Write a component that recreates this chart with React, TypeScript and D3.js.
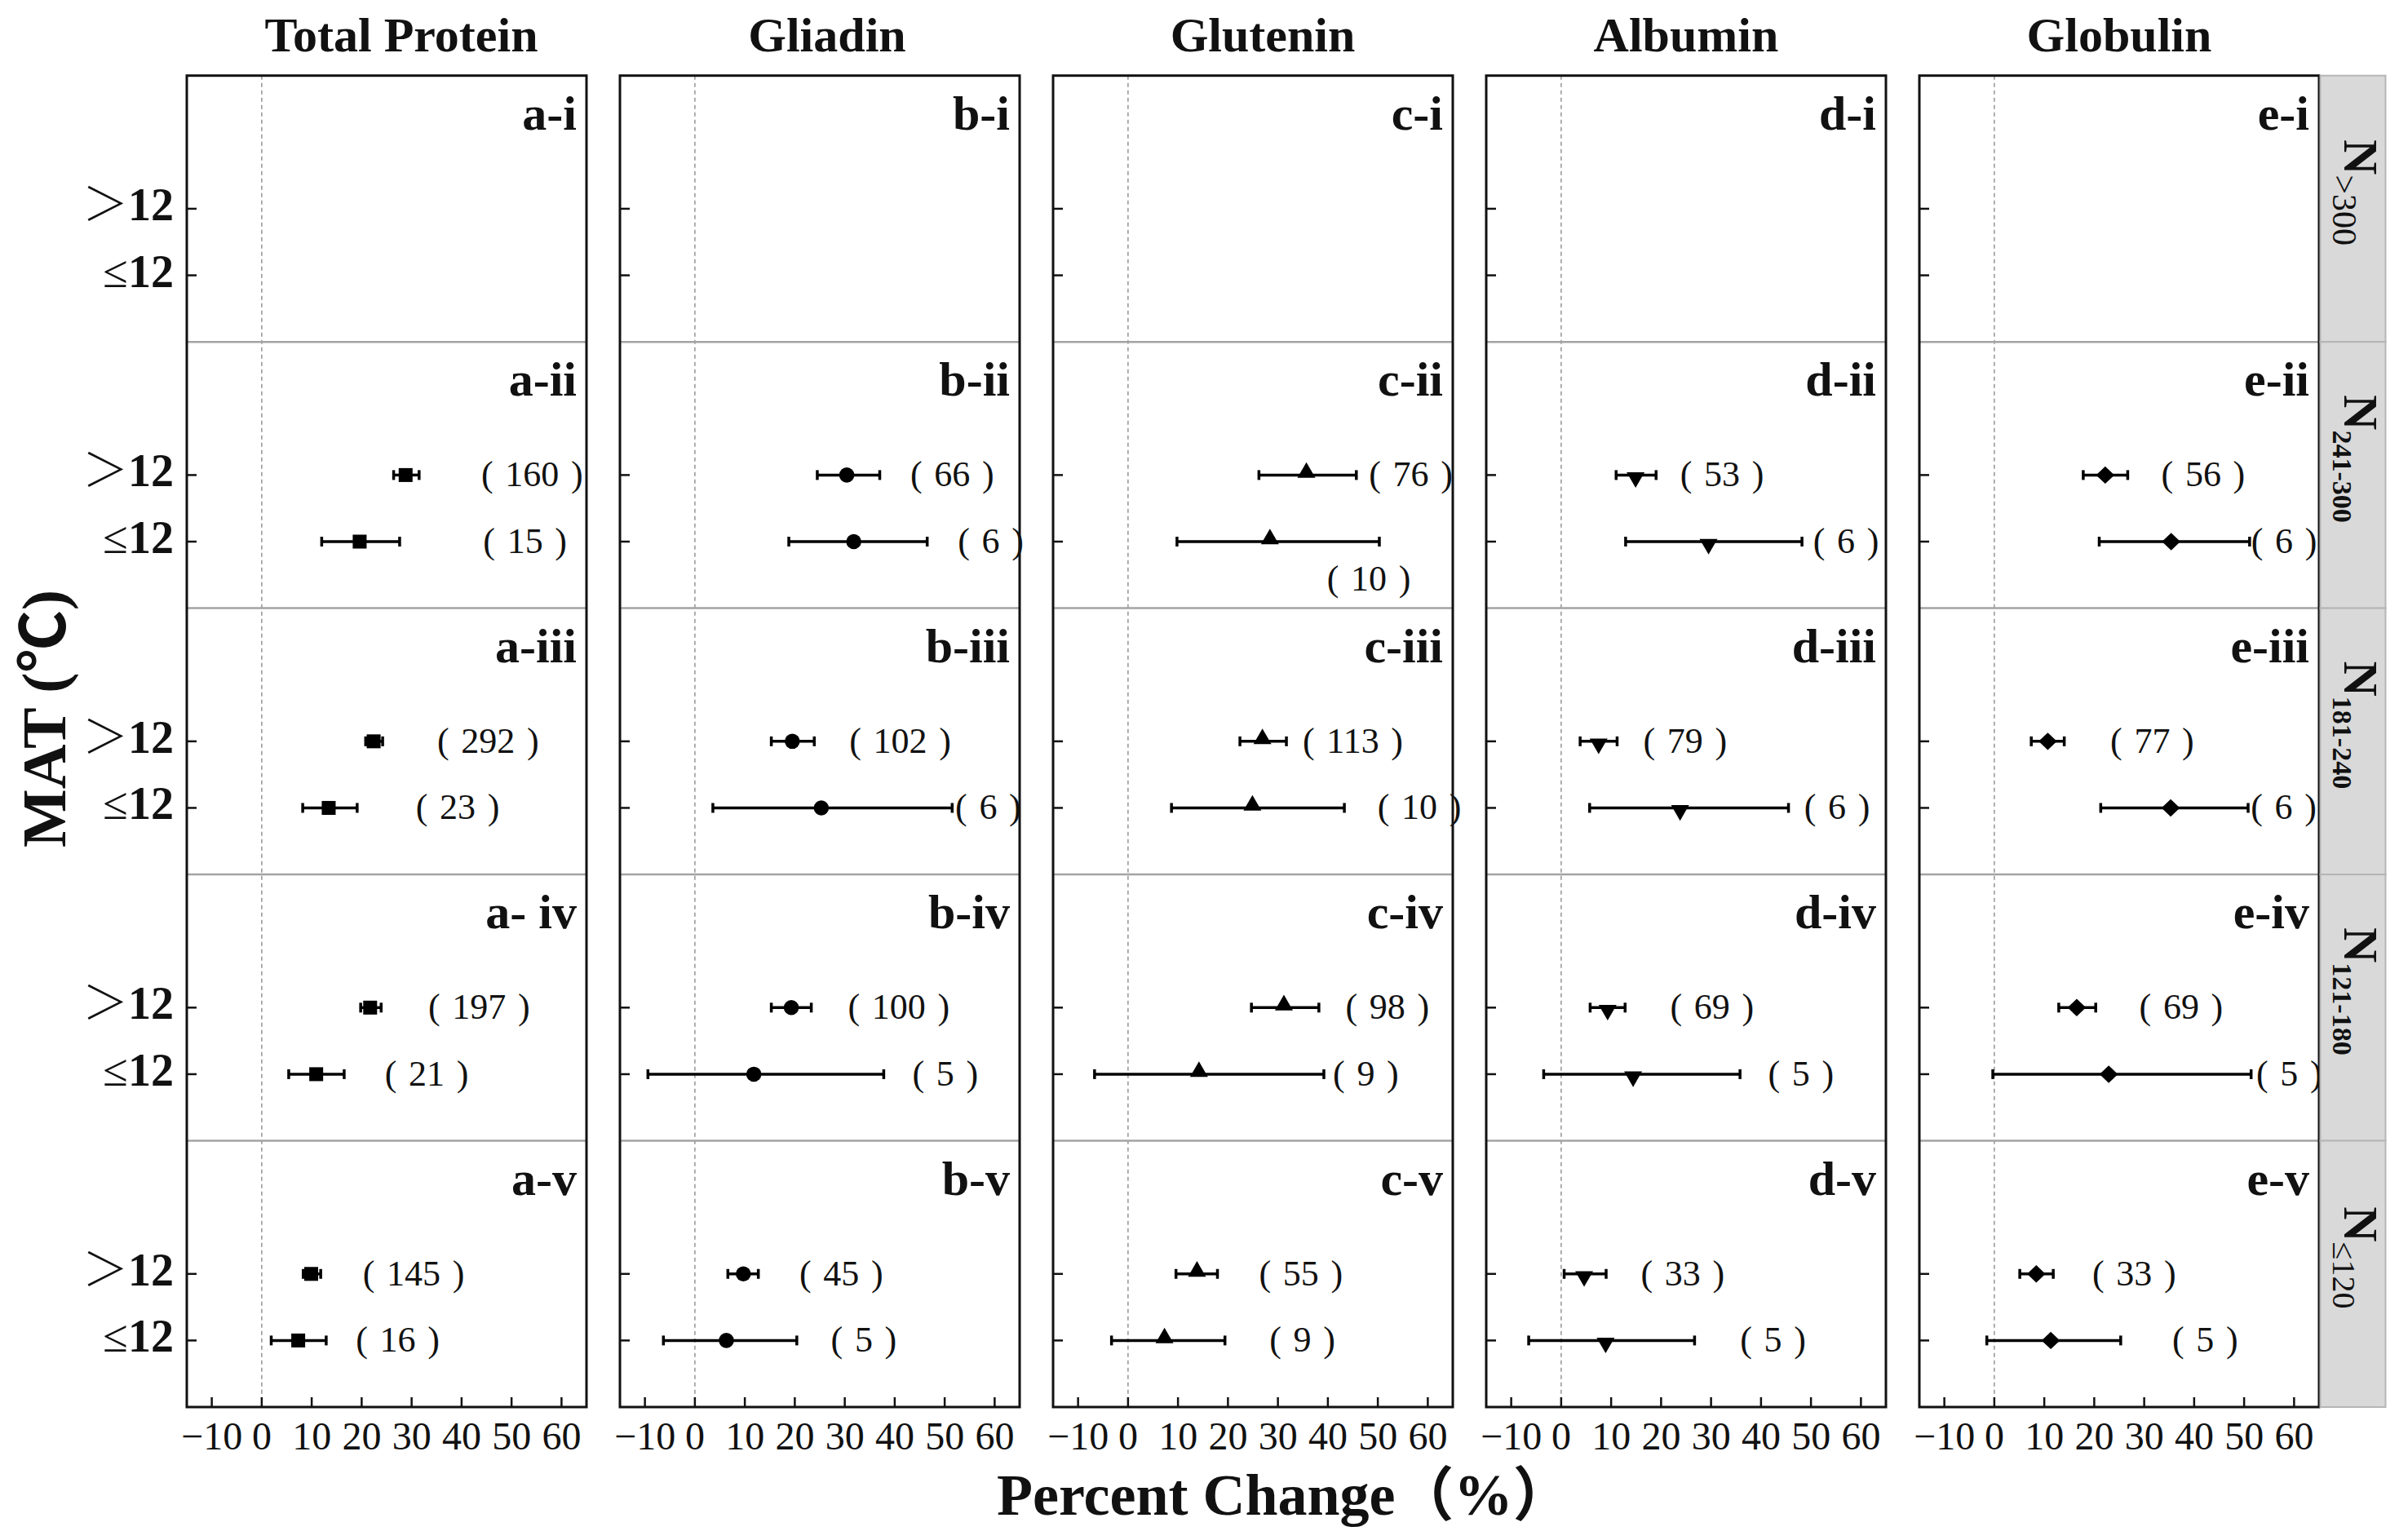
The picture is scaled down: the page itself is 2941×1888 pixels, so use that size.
import React from 'react';
import * as d3 from 'd3';

type Est = { row: string; mat: string; mean: number; lo: number; hi: number; n: number; at: number };

const columns = ['Total Protein', 'Gliadin', 'Glutenin', 'Albumin', 'Globulin'];
const rows = ['i', 'ii', 'iii', 'iv', 'v'];
const matLevels = ['＞12', '≤12'];
const xTicks = [-10, 0, 10, 20, 30, 40, 50, 60];
const panelTags = [
  ['a-i', 'a-ii', 'a-iii', 'a- iv', 'a-v'],
  ['b-i', 'b-ii', 'b-iii', 'b-iv', 'b-v'],
  ['c-i', 'c-ii', 'c-iii', 'c-iv', 'c-v'],
  ['d-i', 'd-ii', 'd-iii', 'd-iv', 'd-v'],
  ['e-i', 'e-ii', 'e-iii', 'e-iv', 'e-v'],
];
const stripMain = ['N', 'N', 'N', 'N', 'N'];
const stripSub = ['>300', '241-300', '181-240', '121-180', '≤120'];

const G = '＞12';
const L = '≤12';
const est = (row: string, mat: string, mean: number, lo: number, hi: number, n: number, at: number): Est => ({ row, mat, mean, lo, hi, n, at });

// mean, lower CI, upper CI, sample size, count-label position (percent units)
const totalProtein: Est[] = [
  est('ii', G, 28.8, 26.4, 31.5, 160, 54.1),
  est('ii', L, 19.6, 12.0, 27.6, 15, 52.7),
  est('iii', G, 22.4, 20.8, 24.2, 292, 45.3),
  est('iii', L, 13.4, 8.2, 19.1, 23, 39.2),
  est('iv', G, 21.7, 19.8, 23.9, 197, 43.5),
  est('iv', L, 10.9, 5.4, 16.5, 21, 33.0),
  est('v', G, 9.9, 8.3, 11.8, 145, 30.4),
  est('v', L, 7.3, 1.9, 12.9, 16, 27.2),
];
const gliadin: Est[] = [
  est('ii', G, 30.4, 24.5, 37.0, 66, 51.5),
  est('ii', L, 31.8, 18.8, 46.5, 6, 59.2),
  est('iii', G, 19.5, 15.3, 23.9, 102, 41.1),
  est('iii', L, 25.3, 3.6, 51.5, 6, 58.7),
  est('iv', G, 19.3, 15.3, 23.3, 100, 40.8),
  est('iv', L, 11.8, -9.4, 37.8, 5, 50.1),
  est('v', G, 9.7, 6.6, 12.7, 45, 29.3),
  est('v', L, 6.3, -6.3, 20.4, 5, 33.8),
];
const glutenin: Est[] = [
  est('ii', G, 35.7, 26.2, 45.7, 76, 56.6),
  est('ii', L, 28.4, 9.8, 50.3, 10, 48.2),
  est('iii', G, 26.9, 22.4, 31.7, 113, 45.0),
  est('iii', L, 24.9, 8.7, 43.3, 10, 58.3),
  est('iv', G, 31.2, 24.7, 38.2, 98, 51.9),
  est('iv', L, 14.2, -6.7, 39.2, 9, 47.6),
  est('v', G, 13.8, 9.6, 17.9, 55, 34.6),
  est('v', L, 7.3, -3.3, 19.4, 9, 34.9),
];
const albumin: Est[] = [
  est('ii', G, 14.9, 11.0, 19.0, 53, 32.2),
  est('ii', L, 29.5, 12.9, 48.2, 6, 57.0),
  est('iii', G, 7.5, 3.8, 11.2, 79, 24.8),
  est('iii', L, 23.8, 5.7, 45.5, 6, 55.2),
  est('iv', G, 9.3, 5.8, 12.8, 69, 30.2),
  est('iv', L, 14.4, -3.5, 35.8, 5, 48.0),
  est('v', G, 4.6, 0.6, 9.0, 33, 24.3),
  est('v', L, 8.9, -6.5, 26.7, 5, 42.4),
];
const globulin: Est[] = [
  est('ii', G, 22.2, 17.8, 26.7, 56, 41.8),
  est('ii', L, 35.4, 21.0, 51.1, 6, 58.0),
  est('iii', G, 10.7, 7.4, 14.0, 77, 31.6),
  est('iii', L, 35.3, 21.3, 50.8, 6, 57.9),
  est('iv', G, 16.5, 12.9, 20.3, 69, 37.4),
  est('iv', L, 22.9, -0.3, 51.4, 5, 59.0),
  est('v', G, 8.4, 5.1, 11.8, 33, 28.0),
  est('v', L, 11.3, -1.5, 25.3, 5, 42.2),
];
const series = [totalProtein, gliadin, glutenin, albumin, globulin];
// count label set beneath its bar
const labelBelow = new Set(['Glutenin|ii|≤12']);

// ---- layout & style ----
const W = 2941;
const H = 1888;
const LEFT = 229;
const RIGHT = 2843;
const TOP = 92.7;
const BOTTOM = 1725;
const FONT = '"Liberation Serif", "Times New Roman", "Noto Sans CJK SC", serif';
const titleShift = [18, 9, 12, 0, 0];

const diamond = {
  draw(ctx: any, size: number) {
    const r = Math.sqrt(size / 2);
    ctx.moveTo(0, -r);
    ctx.lineTo(r * 1.05, 0);
    ctx.lineTo(0, r);
    ctx.lineTo(-r * 1.05, 0);
    ctx.closePath();
  },
};
const symTypes: any[] = [d3.symbolSquare, d3.symbolCircle, d3.symbolTriangle, d3.symbolTriangle, diamond];
const symSizes = [290, 270, 210, 210, 230];
const symRotate = [0, 0, 0, 180, 0];
const symShift = [0, 0, -3, 3, 0];
const stripSubSize = [42, 34, 34, 34, 40];
const stripSubWeight = ['normal', 'bold', 'bold', 'bold', 'normal'];

export default function App() {
  const colX = d3.scaleBand<string>().domain(columns).range([LEFT, RIGHT]).paddingInner(41 / 531).paddingOuter(0);
  const PW = colX.bandwidth();
  const x = d3.scaleLinear().domain([-15, 65]).range([0, PW]);
  const rowBand = d3.scaleBand<string>().domain(rows).range([TOP, BOTTOM]);
  const rowH = rowBand.bandwidth();
  const yIn = d3.scalePoint<string>().domain(matLevels).range([rowH * 0.5, rowH * 0.75]);

  return (
    <svg width={W} height={H} viewBox={`0 0 ${W} ${H}`} style={{ position: 'absolute', left: 0, top: 0, background: '#fff' }} fontFamily={FONT}>
      <rect x={0} y={0} width={W} height={H} fill="#fff" />
      {columns.map((col, ci) => {
        const x0 = colX(col) as number;
        const sym = d3.symbol().type(symTypes[ci]).size(symSizes[ci]);
        const path = sym() as string;
        return (
          <g key={col} transform={`translate(${x0},0)`}>
            <text x={PW / 2 + titleShift[ci]} y={63} textAnchor="middle" fontSize={60} fontWeight="bold" fill="#111">{col}</text>
            {/* zero line */}
            <line x1={x(0)} x2={x(0)} y1={TOP} y2={BOTTOM} stroke="#9a9a9a" strokeWidth={1.6} strokeDasharray="5 4" />
            {/* row separators */}
            {rows.slice(1).map((r) => (
              <line key={r} x1={0} x2={PW} y1={rowBand(r)} y2={rowBand(r)} stroke="#a3a3a3" strokeWidth={2.5} />
            ))}
            {/* y ticks */}
            {rows.map((r) =>
              matLevels.map((m) => {
                const yy = (rowBand(r) as number) + (yIn(m) as number);
                return <line key={r + m} x1={0} x2={12} y1={yy} y2={yy} stroke="#111" strokeWidth={2.5} />;
              })
            )}
            {/* x ticks */}
            {xTicks.map((t) => (
              <g key={t}>
                <line x1={x(t)} x2={x(t)} y1={BOTTOM} y2={BOTTOM - 12} stroke="#111" strokeWidth={2.5} />
                <text x={x(t)} y={BOTTOM + 52} textAnchor="middle" fontSize={48} fill="#111">{t < 0 ? `−${Math.abs(t)}` : `${t}`}</text>
              </g>
            ))}
            {/* panel tags */}
            {rows.map((r, ri) => (
              <text key={r} x={PW - 12} y={(rowBand(r) as number) + 66} textAnchor="end" fontSize={60} fontWeight="bold" fill="#111">{panelTags[ci][ri]}</text>
            ))}
            {/* estimates */}
            {series[ci].map((d) => {
              const yy = (rowBand(d.row) as number) + (yIn(d.mat) as number);
              const below = labelBelow.has(`${col}|${d.row}|${d.mat}`);
              const ly = below ? (rowBand(d.row) as number) + rowH * 0.89 : yy;
              return (
                <g key={d.row + d.mat}>
                  <line x1={x(d.lo)} x2={x(d.hi)} y1={yy} y2={yy} stroke="#000" strokeWidth={3.5} />
                  <line x1={x(d.lo)} x2={x(d.lo)} y1={yy - 6} y2={yy + 6} stroke="#000" strokeWidth={3.5} />
                  <line x1={x(d.hi)} x2={x(d.hi)} y1={yy - 6} y2={yy + 6} stroke="#000" strokeWidth={3.5} />
                  <path d={path} fill="#000" transform={`translate(${x(d.mean)},${yy + symShift[ci]}) rotate(${symRotate[ci]})`} />
                  <text x={x(d.at)} y={ly + 14} textAnchor="middle" fontSize={44} fill="#111">{`(\u2004${d.n}\u2004)`}</text>
                </g>
              );
            })}
            {/* frame */}
            <rect x={0} y={TOP} width={PW} height={BOTTOM - TOP} fill="none" stroke="#111" strokeWidth={3} />
          </g>
        );
      })}
      {/* y tick labels */}
      {rows.map((r) =>
        matLevels.map((m) => (
          <text key={r + m} x={LEFT - 16} y={(rowBand(r) as number) + (yIn(m) as number) + 14} textAnchor="end" fontSize={56} fill="#111">
            <tspan fontWeight={200}>{m.slice(0, 1)}</tspan>
            <tspan fontWeight="bold">{m.slice(1)}</tspan>
          </text>
        ))
      )}
      {/* strip */}
      {rows.map((r, ri) => {
        const y0 = rowBand(r) as number;
        const cx = RIGHT + 42;
        const cy = y0 + rowH / 2 - 20;
        return (
          <g key={r}>
            <rect x={RIGHT + 1.5} y={y0} width={80} height={rowH} fill="#d9d9d9" stroke="#b5b5b5" strokeWidth={2} />
            <text transform={`translate(${cx},${cy}) rotate(90)`} textAnchor="middle" y={11} fontSize={60} fontWeight="bold" fill="#111">
              {stripMain[ri]}
              <tspan dy={14} fontSize={stripSubSize[ri]} fontWeight={stripSubWeight[ri]}>{stripSub[ri]}</tspan>
            </text>
          </g>
        );
      })}
      {/* axis titles */}
      <text transform="translate(80,881) rotate(-90)" textAnchor="middle" fontSize={76} fontWeight="bold" fill="#111">MAT (℃)</text>
      <text x={1222} y={1857} textAnchor="start" fontSize={72} fontWeight="bold" fill="#111">Percent Change（%）</text>
    </svg>
  );
}
